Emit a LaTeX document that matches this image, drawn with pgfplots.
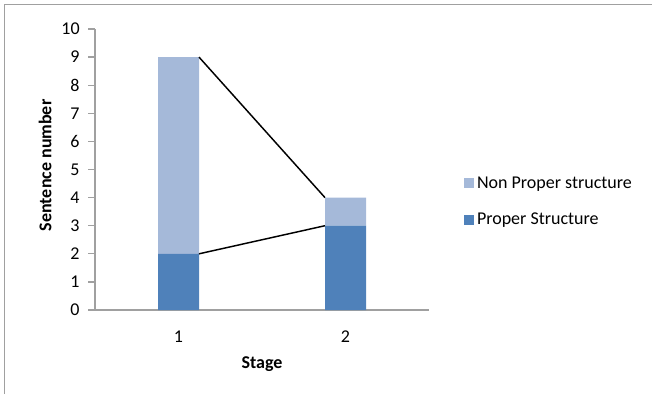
\documentclass[border=0pt]{standalone}
\usepackage{pgfplots}
\pgfplotsset{compat=1.18}
\usepackage{fontspec}
\setmainfont{Carlito}

\definecolor{properblue}{RGB}{79,129,186}
\definecolor{nonproperblue}{RGB}{165,185,217}
\definecolor{axisgray}{RGB}{160,160,160}

% sentence counts per stage
\pgfplotstableread{
stage proper nonproper
1     2      7
2     3      1
}\sentences

\newcommand{\chartfont}{\fontsize{13.5}{15.5}\selectfont}

\pgfplotsset{
  stagebase/.style={
    scale only axis,
    width=250.5pt, height=210.75pt,
    at={(71.25pt,-232.5pt)}, anchor=south west,
    xmin=0.5, xmax=2.5, ymin=0, ymax=10,
  },
}

\begin{document}
\begin{tikzpicture}
\path[use as bounding box] (0,0) rectangle (489pt,-295.5pt);
% chart area border
\draw[axisgray, line width=1.4pt] (3.4pt,-295.5pt) -- (3.4pt,-3.4pt) -- (489pt,-3.4pt);

\begin{axis}[
  stagebase,
  ybar stacked, bar width=30.75pt,
  xtick={1,2}, ytick={0,1,...,10},
  axis x line*=bottom, axis y line*=left,
  axis line style={axisgray, line width=1.3pt},
  xtick style={draw=none},
  ytick style={axisgray, line width=1pt},
  tick align=outside, major tick length=5pt,
  ticklabel style={font=\chartfont},
  /pgf/number format/assume math mode=true,
  xticklabel style={anchor=center, yshift=-15pt},
  yticklabel style={anchor=east, xshift=-3pt},
  xlabel={Stage},
  label style={font=\chartfont\bfseries},
  xlabel style={at={(axis description cs:0.5,0)}, anchor=center, yshift=-40.5pt},
  legend style={draw=none, fill=none, font=\chartfont,
    at={(axis description cs:1.105,0.386)}, anchor=west,
    row sep=13pt, inner sep=0pt, cells={anchor=west}},
  legend image code/.code={\fill[#1] (0pt,-3.75pt) rectangle (7.5pt,3.75pt);},
  reverse legend,
]
\addplot[fill=properblue, draw=none] table[x=stage, y=proper] {\sentences};
\addlegendentry{Proper Structure}
\addplot[fill=nonproperblue, draw=none] table[x=stage, y=nonproper] {\sentences};
\addlegendentry{Non Proper structure}
\end{axis}

% series lines joining the bar tops
\begin{axis}[stagebase, hide axis]
\addplot[black, line width=1.1pt, mark=none] coordinates {(1.1228,9) (1.8772,4)};
\addplot[black, line width=1.1pt, mark=none] coordinates {(1.1228,2) (1.8772,3)};
\end{axis}

% y axis title
\node[rotate=90, font=\chartfont\bfseries, anchor=center] at (33.75pt,-124pt) {Sentence number};
\end{tikzpicture}
\end{document}
